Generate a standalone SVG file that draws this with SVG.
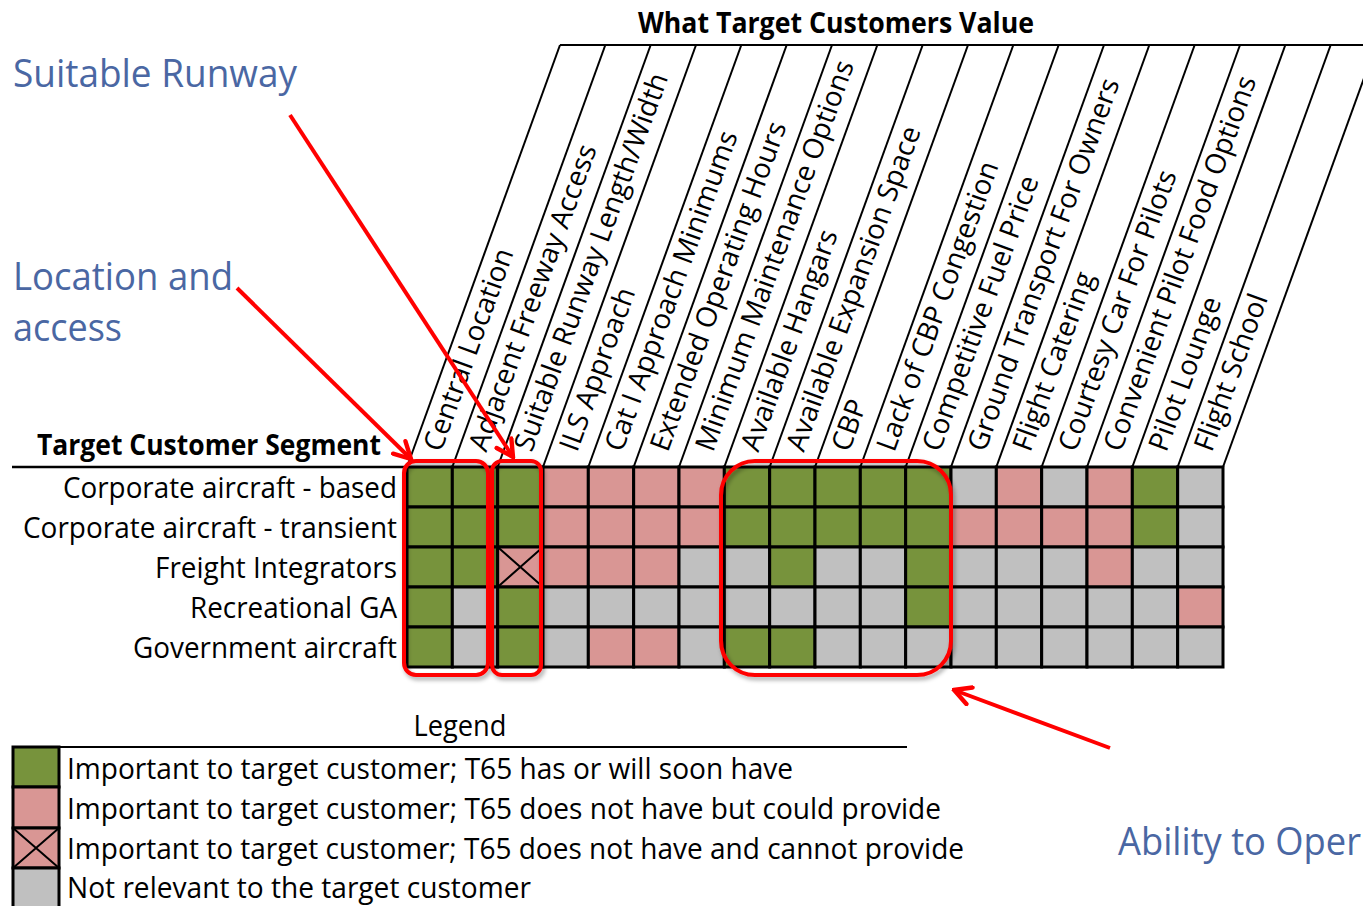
<svg xmlns="http://www.w3.org/2000/svg" width="1363" height="906" viewBox="0 0 1363 906">
  <style>
    text { font-family: "Open Sans", "Noto Sans", "DejaVu Sans", sans-serif; fill: #000; }
    .lbl { font-size: 29px; }
    .col { font-size: 28px; }
    .hdr { font-size: 29px; font-weight: bold; }
    .note { font-size: 38px; fill: #4A67A3; }
    .g { fill: #77933C; }
    .p { fill: #D99694; }
    .n { fill: #C0C0C0; }
    .cells rect { stroke: #000; stroke-width: 3; }
    .slant line { stroke: #000; stroke-width: 2; }
    .cross { stroke: #000; stroke-width: 2; }
    .hl { fill: none; stroke: #FF0000; stroke-width: 4; }
    .arrow { fill: none; stroke: #FF0000; stroke-width: 4; marker-end: url(#vhead); }
  </style>
  <defs>
    <marker id="vhead" viewBox="0 0 20 20" refX="18" refY="10" markerWidth="22" markerHeight="22" markerUnits="userSpaceOnUse" orient="auto">
      <path d="M3,2 L18,10 L3,18" fill="none" stroke="#FF0000" stroke-width="4" stroke-linecap="round" stroke-linejoin="miter"/>
    </marker>
    <filter id="shade" x="-10%" y="-10%" width="130%" height="130%">
      <feDropShadow dx="2" dy="3" stdDeviation="2" flood-color="#000" flood-opacity="0.35"/>
    </filter>
  </defs>

  <rect width="1363" height="906" fill="#fff"/>

  <!-- column header frame -->
  <g id="column-header">
    <text class="hdr" x="836" y="33" text-anchor="middle" textLength="396" lengthAdjust="spacingAndGlyphs">What Target Customers Value</text>
    <line x1="560" y1="45" x2="1363" y2="45" stroke="#000" stroke-width="2"/>
    <g class="slant">
      <line x1="407" y1="467" x2="560" y2="45"/>
      <line x1="452.33" y1="467" x2="605.33" y2="45"/>
      <line x1="497.67" y1="467" x2="650.67" y2="45"/>
      <line x1="543" y1="467" x2="696" y2="45"/>
      <line x1="588.33" y1="467" x2="741.33" y2="45"/>
      <line x1="633.67" y1="467" x2="786.67" y2="45"/>
      <line x1="679" y1="467" x2="832" y2="45"/>
      <line x1="724.33" y1="467" x2="877.33" y2="45"/>
      <line x1="769.67" y1="467" x2="922.67" y2="45"/>
      <line x1="815" y1="467" x2="968" y2="45"/>
      <line x1="860.33" y1="467" x2="1013.33" y2="45"/>
      <line x1="905.67" y1="467" x2="1058.67" y2="45"/>
      <line x1="951" y1="467" x2="1104" y2="45"/>
      <line x1="996.33" y1="467" x2="1149.33" y2="45"/>
      <line x1="1041.67" y1="467" x2="1194.67" y2="45"/>
      <line x1="1087" y1="467" x2="1240" y2="45"/>
      <line x1="1132.33" y1="467" x2="1285.33" y2="45"/>
      <line x1="1177.67" y1="467" x2="1330.67" y2="45"/>
      <line x1="1223" y1="467" x2="1376" y2="45"/>
    </g>
    <g>
      <text class="col" transform="translate(441,453) rotate(-70)">Central Location</text>
      <text class="col" transform="translate(486.33,453) rotate(-70)">Adjacent Freeway Access</text>
      <text class="col" transform="translate(531.67,453) rotate(-70)">Suitable Runway Length/Width</text>
      <text class="col" transform="translate(577,453) rotate(-70)">ILS Approach</text>
      <text class="col" transform="translate(622.33,453) rotate(-70)">Cat I Approach Minimums</text>
      <text class="col" transform="translate(667.67,453) rotate(-70)">Extended Operating Hours</text>
      <text class="col" transform="translate(713,453) rotate(-70)">Minimum Maintenance Options</text>
      <text class="col" transform="translate(758.33,453) rotate(-70)">Available Hangars</text>
      <text class="col" transform="translate(803.67,453) rotate(-70)">Available Expansion Space</text>
      <text class="col" transform="translate(849,453) rotate(-70)">CBP</text>
      <text class="col" transform="translate(894.33,453) rotate(-70)">Lack of CBP Congestion</text>
      <text class="col" transform="translate(939.67,453) rotate(-70)">Competitive Fuel Price</text>
      <text class="col" transform="translate(985,453) rotate(-70)">Ground Transport For Owners</text>
      <text class="col" transform="translate(1030.33,453) rotate(-70)">Flight Catering</text>
      <text class="col" transform="translate(1075.67,453) rotate(-70)">Courtesy Car For Pilots</text>
      <text class="col" transform="translate(1121,453) rotate(-70)">Convenient Pilot Food Options</text>
      <text class="col" transform="translate(1166.33,453) rotate(-70)">Pilot Lounge</text>
      <text class="col" transform="translate(1211.67,453) rotate(-70)">Flight School</text>
    </g>
  </g>

  <!-- row header -->
  <g id="row-header">
    <text class="hdr" x="381" y="455" text-anchor="end" textLength="344" lengthAdjust="spacingAndGlyphs">Target Customer Segment</text>
    <line x1="12" y1="467" x2="407" y2="467" stroke="#000" stroke-width="2.5"/>
    <text class="lbl" x="397" y="498" text-anchor="end" textLength="334" lengthAdjust="spacingAndGlyphs">Corporate aircraft - based</text>
    <text class="lbl" x="397" y="538" text-anchor="end" textLength="374" lengthAdjust="spacingAndGlyphs">Corporate aircraft - transient</text>
    <text class="lbl" x="397" y="578" text-anchor="end" textLength="242" lengthAdjust="spacingAndGlyphs">Freight Integrators</text>
    <text class="lbl" x="397" y="618" text-anchor="end" textLength="207" lengthAdjust="spacingAndGlyphs">Recreational GA</text>
    <text class="lbl" x="397" y="658" text-anchor="end" textLength="264" lengthAdjust="spacingAndGlyphs">Government aircraft</text>
  </g>

  <!-- value matrix: 5 segments x 18 attributes -->
  <g id="matrix" class="cells">
    <!-- Corporate aircraft - based -->
    <rect class="g" x="407" y="467" width="45.33" height="40"/>
    <rect class="g" x="452.33" y="467" width="45.33" height="40"/>
    <rect class="g" x="497.67" y="467" width="45.33" height="40"/>
    <rect class="p" x="543" y="467" width="45.33" height="40"/>
    <rect class="p" x="588.33" y="467" width="45.33" height="40"/>
    <rect class="p" x="633.67" y="467" width="45.33" height="40"/>
    <rect class="p" x="679" y="467" width="45.33" height="40"/>
    <rect class="g" x="724.33" y="467" width="45.33" height="40"/>
    <rect class="g" x="769.67" y="467" width="45.33" height="40"/>
    <rect class="g" x="815" y="467" width="45.33" height="40"/>
    <rect class="g" x="860.33" y="467" width="45.33" height="40"/>
    <rect class="g" x="905.67" y="467" width="45.33" height="40"/>
    <rect class="n" x="951" y="467" width="45.33" height="40"/>
    <rect class="p" x="996.33" y="467" width="45.33" height="40"/>
    <rect class="n" x="1041.67" y="467" width="45.33" height="40"/>
    <rect class="p" x="1087" y="467" width="45.33" height="40"/>
    <rect class="g" x="1132.33" y="467" width="45.33" height="40"/>
    <rect class="n" x="1177.67" y="467" width="45.33" height="40"/>
    <!-- Corporate aircraft - transient -->
    <rect class="g" x="407" y="507" width="45.33" height="40"/>
    <rect class="g" x="452.33" y="507" width="45.33" height="40"/>
    <rect class="g" x="497.67" y="507" width="45.33" height="40"/>
    <rect class="p" x="543" y="507" width="45.33" height="40"/>
    <rect class="p" x="588.33" y="507" width="45.33" height="40"/>
    <rect class="p" x="633.67" y="507" width="45.33" height="40"/>
    <rect class="p" x="679" y="507" width="45.33" height="40"/>
    <rect class="g" x="724.33" y="507" width="45.33" height="40"/>
    <rect class="g" x="769.67" y="507" width="45.33" height="40"/>
    <rect class="g" x="815" y="507" width="45.33" height="40"/>
    <rect class="g" x="860.33" y="507" width="45.33" height="40"/>
    <rect class="g" x="905.67" y="507" width="45.33" height="40"/>
    <rect class="p" x="951" y="507" width="45.33" height="40"/>
    <rect class="p" x="996.33" y="507" width="45.33" height="40"/>
    <rect class="p" x="1041.67" y="507" width="45.33" height="40"/>
    <rect class="p" x="1087" y="507" width="45.33" height="40"/>
    <rect class="g" x="1132.33" y="507" width="45.33" height="40"/>
    <rect class="n" x="1177.67" y="507" width="45.33" height="40"/>
    <!-- Freight Integrators -->
    <rect class="g" x="407" y="547" width="45.33" height="40"/>
    <rect class="g" x="452.33" y="547" width="45.33" height="40"/>
    <rect class="p" x="497.67" y="547" width="45.33" height="40"/>
    <rect class="p" x="543" y="547" width="45.33" height="40"/>
    <rect class="p" x="588.33" y="547" width="45.33" height="40"/>
    <rect class="p" x="633.67" y="547" width="45.33" height="40"/>
    <rect class="n" x="679" y="547" width="45.33" height="40"/>
    <rect class="n" x="724.33" y="547" width="45.33" height="40"/>
    <rect class="g" x="769.67" y="547" width="45.33" height="40"/>
    <rect class="n" x="815" y="547" width="45.33" height="40"/>
    <rect class="n" x="860.33" y="547" width="45.33" height="40"/>
    <rect class="g" x="905.67" y="547" width="45.33" height="40"/>
    <rect class="n" x="951" y="547" width="45.33" height="40"/>
    <rect class="n" x="996.33" y="547" width="45.33" height="40"/>
    <rect class="n" x="1041.67" y="547" width="45.33" height="40"/>
    <rect class="p" x="1087" y="547" width="45.33" height="40"/>
    <rect class="n" x="1132.33" y="547" width="45.33" height="40"/>
    <rect class="n" x="1177.67" y="547" width="45.33" height="40"/>
    <!-- Recreational GA -->
    <rect class="g" x="407" y="587" width="45.33" height="40"/>
    <rect class="n" x="452.33" y="587" width="45.33" height="40"/>
    <rect class="g" x="497.67" y="587" width="45.33" height="40"/>
    <rect class="n" x="543" y="587" width="45.33" height="40"/>
    <rect class="n" x="588.33" y="587" width="45.33" height="40"/>
    <rect class="n" x="633.67" y="587" width="45.33" height="40"/>
    <rect class="n" x="679" y="587" width="45.33" height="40"/>
    <rect class="n" x="724.33" y="587" width="45.33" height="40"/>
    <rect class="n" x="769.67" y="587" width="45.33" height="40"/>
    <rect class="n" x="815" y="587" width="45.33" height="40"/>
    <rect class="n" x="860.33" y="587" width="45.33" height="40"/>
    <rect class="g" x="905.67" y="587" width="45.33" height="40"/>
    <rect class="n" x="951" y="587" width="45.33" height="40"/>
    <rect class="n" x="996.33" y="587" width="45.33" height="40"/>
    <rect class="n" x="1041.67" y="587" width="45.33" height="40"/>
    <rect class="n" x="1087" y="587" width="45.33" height="40"/>
    <rect class="n" x="1132.33" y="587" width="45.33" height="40"/>
    <rect class="p" x="1177.67" y="587" width="45.33" height="40"/>
    <!-- Government aircraft -->
    <rect class="g" x="407" y="627" width="45.33" height="40"/>
    <rect class="n" x="452.33" y="627" width="45.33" height="40"/>
    <rect class="g" x="497.67" y="627" width="45.33" height="40"/>
    <rect class="n" x="543" y="627" width="45.33" height="40"/>
    <rect class="p" x="588.33" y="627" width="45.33" height="40"/>
    <rect class="p" x="633.67" y="627" width="45.33" height="40"/>
    <rect class="n" x="679" y="627" width="45.33" height="40"/>
    <rect class="g" x="724.33" y="627" width="45.33" height="40"/>
    <rect class="g" x="769.67" y="627" width="45.33" height="40"/>
    <rect class="n" x="815" y="627" width="45.33" height="40"/>
    <rect class="n" x="860.33" y="627" width="45.33" height="40"/>
    <rect class="n" x="905.67" y="627" width="45.33" height="40"/>
    <rect class="n" x="951" y="627" width="45.33" height="40"/>
    <rect class="n" x="996.33" y="627" width="45.33" height="40"/>
    <rect class="n" x="1041.67" y="627" width="45.33" height="40"/>
    <rect class="n" x="1087" y="627" width="45.33" height="40"/>
    <rect class="n" x="1132.33" y="627" width="45.33" height="40"/>
    <rect class="n" x="1177.67" y="627" width="45.33" height="40"/>
    <!-- cannot-provide mark -->
    <path class="cross" d="M497.67,547 L543,587 M543,547 L497.67,587"/>
  </g>

  <!-- highlighted groups -->
  <g id="highlight-location" filter="url(#shade)">
    <rect class="hl" x="404" y="461" width="84" height="214" rx="12"/>
  </g>
  <g id="highlight-runway" filter="url(#shade)">
    <rect class="hl" x="492" y="461" width="49" height="214" rx="10"/>
  </g>
  <g id="highlight-operate" filter="url(#shade)">
    <rect class="hl" x="721" y="461" width="230" height="214" rx="34"/>
  </g>

  <!-- callout notes -->
  <g id="note-runway">
    <text class="note" x="13" y="87" textLength="284" lengthAdjust="spacingAndGlyphs">Suitable Runway</text>
  </g>
  <g id="note-location">
    <text class="note" x="13" y="290" textLength="220" lengthAdjust="spacingAndGlyphs">Location and</text>
    <text class="note" x="13" y="341" textLength="109" lengthAdjust="spacingAndGlyphs">access</text>
  </g>
  <g id="note-operate">
    <text class="note" x="1118" y="855" textLength="243" lengthAdjust="spacingAndGlyphs">Ability to Oper</text>
  </g>

  <!-- connectors -->
  <g id="connectors">
    <path class="arrow" d="M290,115 L513,457"/>
    <path class="arrow" d="M237,288 L411,459"/>
    <path class="arrow" d="M1110,748 L954,690"/>
  </g>

  <!-- legend -->
  <g id="legend">
    <text class="lbl" x="460" y="736" text-anchor="middle" textLength="93" lengthAdjust="spacingAndGlyphs">Legend</text>
    <line x1="13" y1="747" x2="907" y2="747" stroke="#000" stroke-width="2"/>
    <g class="cells">
      <rect class="g" x="13" y="747" width="46" height="40"/>
      <rect class="p" x="13" y="787" width="46" height="41"/>
      <rect class="p" x="13" y="828" width="46" height="40"/>
      <rect class="n" x="13" y="868" width="46" height="42"/>
    </g>
    <path class="cross" d="M13,828 L59,868 M59,828 L13,868"/>
    <text class="lbl" x="67" y="779" textLength="726" lengthAdjust="spacingAndGlyphs">Important to target customer; T65 has or will soon have</text>
    <text class="lbl" x="67" y="819" textLength="874" lengthAdjust="spacingAndGlyphs">Important to target customer; T65 does not have but could provide</text>
    <text class="lbl" x="67" y="859" textLength="897" lengthAdjust="spacingAndGlyphs">Important to target customer; T65 does not have and cannot provide</text>
    <text class="lbl" x="67" y="898" textLength="464" lengthAdjust="spacingAndGlyphs">Not relevant to the target customer</text>
  </g>
</svg>
